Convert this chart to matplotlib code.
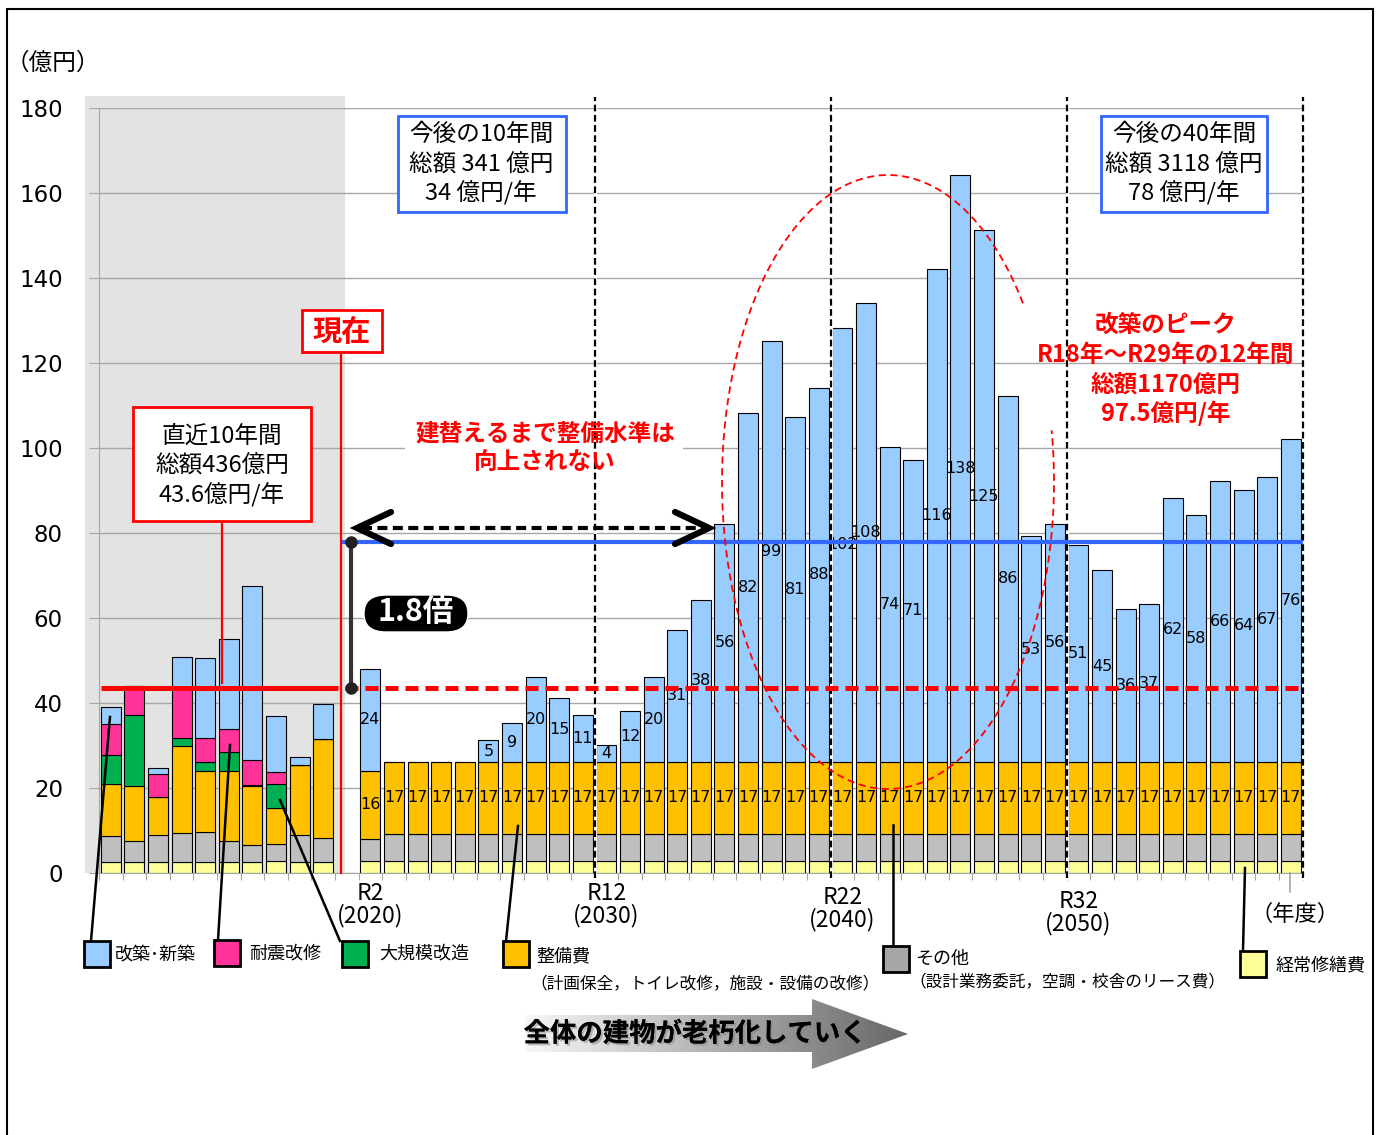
import numpy as np
import matplotlib
matplotlib.use('Agg')
import matplotlib.pyplot as plt
import matplotlib.patheffects as pe
from matplotlib.patches import Rectangle, Polygon, FancyBboxPatch
from matplotlib.lines import Line2D

plt.rcParams['font.family'] = ['Noto Sans CJK JP', 'DejaVu Sans']

W, H = 1379, 1135

# past 10 years (stacked, 億円)
past_yellow = [2.7, 2.7, 2.7, 2.6, 2.6, 2.6, 2.5, 2.9, 2.6, 2.7]
past_other = [5.9, 4.8, 6.3, 6.7, 7.0, 5.0, 4.0, 4.0, 6.4, 5.6]
past_maint = [12.4, 13.0, 9.0, 20.5, 14.3, 16.5, 14.0, 8.3, 16.3, 23.2]
past_major = [6.7, 16.6, 0, 1.9, 2.3, 4.4, 0.3, 5.8, 0, 0]
past_seismic = [7.3, 6.9, 5.4, 11.8, 5.6, 5.3, 5.7, 2.7, 0, 0]
past_rebuild = [4.1, 0, 1.4, 7.4, 18.9, 21.2, 41.1, 13.2, 1.9, 8.2]

# next 40 years R2..R41
fut_yellow = [2.8, 2.8, 2.8, 2.8, 2.8, 2.8, 2.8, 2.8, 2.8, 2.8,
              2.8, 2.8, 2.8, 2.8, 2.8, 2.8, 2.8, 2.8, 2.8, 2.8,
              2.8, 2.8, 2.8, 2.8, 2.8, 2.8, 2.8, 2.8, 2.8, 2.8,
              2.8, 2.8, 2.8, 2.8, 2.8, 2.8, 2.8, 2.8, 2.8, 2.8]
fut_other = [5.3, 6.4, 6.4, 6.4, 6.4, 6.4, 6.4, 6.4, 6.4, 6.4,
             6.4, 6.4, 6.4, 6.4, 6.4, 6.4, 6.4, 6.4, 6.4, 6.4,
             6.4, 6.4, 6.4, 6.4, 6.4, 6.4, 6.4, 6.4, 6.4, 6.4,
             6.4, 6.4, 6.4, 6.4, 6.4, 6.4, 6.4, 6.4, 6.4, 6.4]
fut_maint = [16, 17, 17, 17, 17, 17, 17, 17, 17, 17,
             17, 17, 17, 17, 17, 17, 17, 17, 17, 17,
             17, 17, 17, 17, 17, 17, 17, 17, 17, 17,
             17, 17, 17, 17, 17, 17, 17, 17, 17, 17]
fut_rebuild = [24, 0, 0, 0, 0, 5, 9, 20, 15, 11,
               4, 12, 20, 31, 38, 56, 82, 99, 81, 88,
               102, 108, 74, 71, 116, 138, 125, 86, 53, 56,
               51, 45, 36, 37, 62, 58, 66, 64, 67, 76]

year_labels = [('R2', '(2020)'), ('R12', '(2030)'), ('R22', '(2040)'), ('R32', '(2050)')]
year_slots = [11, 21, 31, 41]
decade_lines = [20.5, 30.5, 40.5, 50.5]

avg_past = 43.6
avg_future = 78

c_rebuild = '#99ccff'
c_seismic = '#ff3399'
c_major = '#00b050'
c_maint = '#ffc000'
c_other = '#bfbfbf'
c_yellow = '#ffff99'

legend_names = ['改築･新築', '耐震改修', '大規模改造', '整備費', 'その他', '経常修繕費']
legend_colors = [c_rebuild, c_seismic, c_major, c_maint, '#a6a6a6', c_yellow]


def fx(x):
    return x / W


def fy(y):
    return 1 - y / H


def dx(px):
    return (px - 110.8) / 23.6


def dy(py):
    return (873 - py) / 4.25


fig = plt.figure(figsize=(W / 100, H / 100), dpi=100)
ax = fig.add_axes([fx(99), fy(873), (1302.6 - 99) / W, (873 - 108) / H])
ax.set_xlim(-0.5, 50.5)
ax.set_ylim(0, 180)

# shaded block for the past decade
ax.add_patch(Rectangle((dx(85), 0), dx(345) - dx(85), dy(96), fc='#e3e3e3', ec='none',
                       clip_on=False, zorder=0))


def stack(x, layers):
    bottom = np.zeros(len(x))
    bottoms = []
    for vals, col in layers:
        vals = np.array(vals, float)
        ax.bar(x, vals, bottom=bottom, width=0.84, color=col, edgecolor='black',
               linewidth=0.8, zorder=2)
        bottoms.append(bottom.copy())
        bottom += vals
    return bottoms


x_past = np.arange(10)
x_fut = np.arange(11, 51)
stack(x_past, [(past_yellow, c_yellow), (past_other, c_other), (past_maint, c_maint),
               (past_major, c_major), (past_seismic, c_seismic), (past_rebuild, c_rebuild)])
bots = stack(x_fut, [(fut_yellow, c_yellow), (fut_other, c_other), (fut_maint, c_maint),
                     (fut_rebuild, c_rebuild)])

for x, b, v in zip(x_fut, bots[2], fut_maint):
    ax.text(x, b + v / 2, f'{v:g}', ha='center', va='center', fontsize=11.5,
            family='DejaVu Sans', zorder=3)
for x, b, v in zip(x_fut, bots[3], fut_rebuild):
    if v > 0:
        ax.text(x, b + v / 2, f'{v:g}', ha='center', va='center', fontsize=11.5,
                family='DejaVu Sans', zorder=3)

# axes styling
ax.set_yticks(range(0, 181, 20))
ax.yaxis.grid(True, color='#a6a6a6', lw=1)
ax.set_axisbelow(True)
ax.tick_params(axis='y', length=7, color='#a6a6a6', pad=19, labelsize=16.5)
for lab in ax.get_yticklabels():
    lab.set_family('DejaVu Sans')
ax.set_xticks(np.arange(-0.5, 51, 1))
ax.set_xticklabels([])
ax.tick_params(axis='x', length=5, color='#a6a6a6')
for s in ['top', 'right']:
    ax.spines[s].set_visible(False)
for s in ['left', 'bottom']:
    ax.spines[s].set_color('#a6a6a6')

# decade separators
for xv in decade_lines:
    ax.plot([xv, xv], [-1.2, 182.5], color='white', lw=2.2, clip_on=False, zorder=4)
    ax.plot([xv, xv], [-1.2, 182.5], color='black', lw=1.6, dashes=(3, 1.6),
            clip_on=False, zorder=4)

# averages
ax.plot([dx(101), dx(338)], [avg_past, avg_past], color='red', lw=3.6,
        solid_capstyle='butt', zorder=5)
ax.plot([dx(345), 50.5], [avg_past, avg_past], color='red', lw=3.6, dashes=(2.6, 1.4),
        zorder=5)
ax.plot([dx(340), 50.5], [avg_future, avg_future], color='#3366ff', lw=3,
        solid_capstyle='butt', zorder=5)

# present marker
ax.plot([dx(341), dx(341)], [0, dy(352)], color='red', lw=1.6, zorder=5, clip_on=False)

# 1.8x bracket
xb = dx(351)
ax.plot([xb, xb], [avg_past, avg_future], color='#333333', lw=3, zorder=6)
ax.plot([xb, xb], [avg_past, avg_future], 'o', color='#222222', ms=8, zorder=6)

# dashed double arrow
ya = dy(528)
ax.plot([dx(362), dx(703)], [ya, ya], color='black', lw=3, dashes=(2.4, 1.3), zorder=6)
ax.plot([dx(391), dx(357), dx(391)], [dy(512), ya, dy(544)], color='black', lw=4.5,
        solid_capstyle='round', solid_joinstyle='miter', zorder=6)
ax.plot([dx(675), dx(709), dx(675)], [dy(512), ya, dy(544)], color='black', lw=4.5,
        solid_capstyle='round', solid_joinstyle='miter', zorder=6)

# peak ellipse (open on the upper right)
t = np.radians(np.linspace(35.6, 369.7, 400))
cx, cy, a, b = 888, 482, 166, 307
ax.plot(dx(cx + a * np.cos(t)), dy(cy - b * np.sin(t)), color='red', lw=1.3,
        ls=(0, (4, 2.5)), zorder=6)

# white patch behind the red note
ax.add_patch(Rectangle((dx(405), dy(475)), dx(683) - dx(405), dy(420) - dy(475),
                       fc='white', ec='none', zorder=1))


def lines_at(xc, ys, texts, **kw):
    for y, s in zip(ys, texts):
        fig.text(fx(xc), fy(y), s, ha='center', va='center', **kw)


def box(x0, y0, x1, y1, ec, lw=2):
    fig.add_artist(Rectangle((fx(x0), fy(y1)), (x1 - x0) / W, (y1 - y0) / H,
                             transform=fig.transFigure, fc='white', ec=ec, lw=lw, zorder=3))


def fline(x0, y0, x1, y1, color='black', lw=1.6):
    fig.add_artist(Line2D([fx(x0), fx(x1)], [fy(y0), fy(y1)], transform=fig.transFigure,
                          color=color, lw=lw, zorder=3))


# text boxes
fline(222, 521, 222, 683, color='red', lw=1.6)
box(133, 407, 311, 521, 'red')
lines_at(222, [436, 466, 495], ['直近10年間', '総額436億円', '43.6億円/年'],
         fontsize=17, zorder=4)

box(398, 116, 566, 212, '#3366ff')
lines_at(481, [134, 165, 193], ['今後の10年間', '総額 341 億円', '34 億円/年'],
         fontsize=17, zorder=4)

box(1101, 116, 1267, 212, '#3366ff')
lines_at(1184, [134, 165, 193], ['今後の40年間', '総額 3118 億円', '78 億円/年'],
         fontsize=17, zorder=4)

box(302, 310, 382, 352, 'red')
lines_at(342, [332], ['現在'], fontsize=21, fontweight='bold', color='red', zorder=4)

fig.add_artist(FancyBboxPatch((fx(364), fy(632)), (468 - 364) / W, (632 - 595) / H,
                              boxstyle='round,pad=0,rounding_size=0.016',
                              transform=fig.transFigure, fc='black', ec='white', lw=1,
                              zorder=4))
lines_at(416, [612], ['1.8倍'], fontsize=22, fontweight='bold', color='white', zorder=5)

lines_at(545, [433, 462], ['建替えるまで整備水準は', '向上されない'],
         fontsize=17, fontweight='bold', color='red', zorder=4)
lines_at(1166, [325, 355, 385, 413],
         ['改築のピーク', 'R18年～R29年の12年間', '総額1170億円', '97.5億円/年'],
         fontsize=17, fontweight='bold', color='red', zorder=4)

# axis captions
fig.text(fx(6), fy(63), '（億円）', ha='left', va='center', fontsize=17)
fig.text(fx(1295), fy(914), '（年度）', ha='center', va='center', fontsize=16)
for slot, (r, yr), off in zip(year_slots, year_labels, [0, 0, 4, 8]):
    px = 110.8 + slot * 23.6
    fig.text(fx(px), fy(893 + off), r, ha='center', va='center', fontsize=16.5)
    fig.text(fx(px), fy(916 + off), yr, ha='center', va='center', fontsize=16.5)
fline(1290, 873, 1290, 892, color='#a6a6a6', lw=1.2)

# legend swatches with leader lines
swatches = [(84, 941, 91, 941, 110, 717, 115, 955),
            (214, 940, 218, 940, 230, 745, 249, 953),
            (342, 941, 340, 941, 280, 800, 379, 953),
            (503, 941, 506, 941, 518, 826, 536, 956),
            (883, 946, 893, 946, 893, 825, 915, 959),
            (1240, 951, 1243, 951, 1245, 868, 1276, 965)]
for (bx, by, lx0, ly0, lx1, ly1, tx, ty), name, col in zip(swatches, legend_names,
                                                          legend_colors):
    fline(lx0, ly0, lx1, ly1, lw=1.8)
    fig.add_artist(Rectangle((fx(bx), fy(by + 26)), 26 / W, 26 / H, transform=fig.transFigure,
                             fc=col, ec='black', lw=2, zorder=4))
    fig.text(fx(tx), fy(ty), name, ha='left', va='center', fontsize=13)
fig.text(fx(705), fy(984), '（計画保全，トイレ改修，施設・設備の改修）', ha='center',
         va='center', fontsize=12)
fig.text(fx(1067), fy(982), '（設計業務委託，空調・校舎のリース費）', ha='center',
         va='center', fontsize=12)

# ageing arrow with gradient fill
ax_arr = fig.add_axes([fx(525), fy(1070), (910 - 525) / W, (1070 - 998) / H])
ax_arr.axis('off')
pts = [(525, 1015), (812, 1015), (812, 999), (908, 1034), (812, 1069), (812, 1052), (525, 1052)]
grad = np.linspace(0.97, 0.40, 256)[None, :]
im = ax_arr.imshow(grad, cmap='gray', vmin=0, vmax=1, extent=[525, 910, 1070, 998],
                   aspect='auto')
poly = Polygon(pts, closed=True, fc='none', ec='none')
ax_arr.add_patch(poly)
im.set_clip_path(poly)
ax_arr.set_xlim(525, 910)
ax_arr.set_ylim(1070, 998)
fig.text(fx(695), fy(1034), '全体の建物が老朽化していく', ha='center', va='center',
         fontsize=19, fontweight='bold', zorder=5,
         path_effects=[pe.withSimplePatchShadow(offset=(1.5, -1.5), shadow_rgbFace='gray',
                                                alpha=0.5), pe.Normal()])

# outer frame
fig.add_artist(Rectangle((fx(7), fy(1140)), (1373 - 7) / W, (1140 - 9) / H,
                         transform=fig.transFigure, fc='none', ec='black', lw=1.5))

fig.savefig('out.png', dpi=100)
